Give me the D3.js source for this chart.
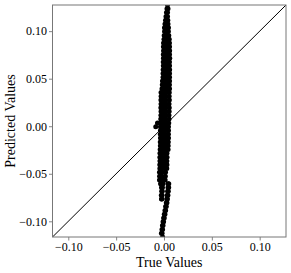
<!DOCTYPE html>
<html>
<head>
<meta charset="utf-8">
<script src="https://cdn.jsdelivr.net/npm/d3@7"></script>
<style>
  body { margin: 0; background: #fff; }
  text { font-family: "Liberation Serif", "DejaVu Serif", serif; }
</style>
</head>
<body>
<svg id="chart"></svg>
<script>
// axis limits (same for both axes) and tick values
const axisLimits = [-0.1165, 0.1275];
const tickValues = [-0.10, -0.05, 0.00, 0.05, 0.10];

// predicted values, one level per row, top to bottom
const predictedLevels = [
  0.1275, 0.1235, 0.1195, 0.1155, 0.1115, 0.1075, 0.1035, 0.0995, 0.0955, 0.0915,
  0.0875, 0.0835, 0.0795, 0.0755, 0.0715, 0.0675, 0.0635, 0.0595, 0.0555, 0.0515,
  0.0475, 0.0435, 0.0395, 0.0355, 0.0315, 0.0275, 0.0235, 0.0195, 0.0155, 0.0115,
  0.0075, 0.0035, -0.0005, -0.0045, -0.0085, -0.0125, -0.0165, -0.0205, -0.0245, -0.0285,
  -0.0325, -0.0365, -0.0405, -0.0445, -0.0485, -0.0525, -0.0565, -0.0605, -0.0645, -0.0685,
  -0.0725, -0.0765, -0.0805, -0.0845, -0.0885, -0.0925, -0.0965, -0.1005, -0.1045, -0.1085,
  -0.1125, -0.1165
];

// true values observed at each predicted level
const trueAtLevel = [
  [0.0037],
  [0.0031, 0.0042],
  [0.0026, 0.0037],
  [0.0021, 0.0037],
  [0.0016, 0.0031, 0.0040],
  [0.0010, 0.0026, 0.0042],
  [0.0005, 0.0026, 0.0047],
  [0.0006, 0.0027, 0.0046],
  [0.0002, 0.0026, 0.0050],
  [0.0000, 0.0026, 0.0055],
  [-0.0005, 0.0021, 0.0047, 0.0057],
  [-0.0006, 0.0020, 0.0046, 0.0058],
  [-0.0005, 0.0022, 0.0048, 0.0059],
  [-0.0007, 0.0019, 0.0045, 0.0058],
  [-0.0006, 0.0021, 0.0047, 0.0060],
  [-0.0008, 0.0020, 0.0046, 0.0057],
  [-0.0007, 0.0018, 0.0044, 0.0058],
  [-0.0009, 0.0019, 0.0045, 0.0059],
  [-0.0010, 0.0017, 0.0043, 0.0058],
  [-0.0010, 0.0016, 0.0042, 0.0058],
  [-0.0016, 0.0010, 0.0036, 0.0058],
  [-0.0018, 0.0009, 0.0035, 0.0057],
  [-0.0021, 0.0005, 0.0031, 0.0058],
  [-0.0031, -0.0005, 0.0021, 0.0055],
  [-0.0030, -0.0004, 0.0022, 0.0054],
  [-0.0032, -0.0006, 0.0020, 0.0056],
  [-0.0031, -0.0005, 0.0021, 0.0053],
  [-0.0033, -0.0007, 0.0019, 0.0055],
  [-0.0031, -0.0005, 0.0021, 0.0054],
  [-0.0032, -0.0006, 0.0020, 0.0052],
  [-0.0034, -0.0008, 0.0018, 0.0053],
  [-0.0068, -0.0035, -0.0009, 0.0017, 0.0050],
  [-0.0086, -0.0037, -0.0010, 0.0016, 0.0047],
  [-0.0037, -0.0010, 0.0016, 0.0047],
  [-0.0038, -0.0011, 0.0015, 0.0046],
  [-0.0037, -0.0010, 0.0016, 0.0047],
  [-0.0039, -0.0012, 0.0014, 0.0045],
  [-0.0038, -0.0011, 0.0015, 0.0044],
  [-0.0040, -0.0013, 0.0013, 0.0043],
  [-0.0042, -0.0016, 0.0010, 0.0031],
  [-0.0043, -0.0017, 0.0009, 0.0032],
  [-0.0042, -0.0016, 0.0010, 0.0030],
  [-0.0044, -0.0018, 0.0008, 0.0031],
  [-0.0043, -0.0017, 0.0009, 0.0029],
  [-0.0047, -0.0020, 0.0016],
  [-0.0046, -0.0021, 0.0014],
  [-0.0047, -0.0020, 0.0012],
  [-0.0036, -0.0010, 0.0042, 0.0050],
  [-0.0026, -0.0016, 0.0042, 0.0049],
  [-0.0024, -0.0018, 0.0038, 0.0045],
  [-0.0028, -0.0020, 0.0034, 0.0041],
  [-0.0026, -0.0022, 0.0029, 0.0036],
  [0.0024, 0.0031],
  [0.0017, 0.0024],
  [0.0010, 0.0017],
  [0.0003, 0.0010],
  [-0.0004, 0.0003],
  [-0.0010, -0.0004],
  [-0.0016, -0.0010],
  [-0.0021, -0.0015],
  [-0.0027, -0.0020],
  [-0.0014]
];

const points = [];
predictedLevels.forEach((p, i) => {
  trueAtLevel[i].forEach(t => points.push({ trueVal: t, predicted: p }));
});

const svgWidth = 291;
const svgHeight = 273;
const margin = { top: 5, right: 5, bottom: 36, left: 52.5 };
const width = svgWidth - margin.left - margin.right;
const height = svgHeight - margin.top - margin.bottom;

const svg = d3.select("#chart")
  .attr("width", svgWidth)
  .attr("height", svgHeight);

const g = svg.append("g")
  .attr("transform", `translate(${margin.left},${margin.top})`);

const x = d3.scaleLinear().domain(axisLimits).range([0, width]);
const y = d3.scaleLinear().domain(axisLimits).range([height, 0]);

const fmt = d => d3.format(".2f")(d).replace("-", "\u2212");

// clip the marks to the axes box
svg.append("defs").append("clipPath").attr("id", "clip")
  .append("rect").attr("width", width).attr("height", height);

const plot = g.append("g").attr("clip-path", "url(#clip)");

// identity line
plot.append("line")
  .attr("x1", x(axisLimits[0])).attr("y1", y(axisLimits[0]))
  .attr("x2", x(axisLimits[1])).attr("y2", y(axisLimits[1]))
  .attr("stroke", "#000")
  .attr("stroke-width", 1);

// scatter points
plot.selectAll("circle")
  .data(points)
  .join("circle")
  .attr("cx", d => x(d.trueVal))
  .attr("cy", d => y(d.predicted))
  .attr("r", 2.5)
  .attr("fill", "#000");

// axes
const xAxis = g.append("g")
  .attr("transform", `translate(0,${height})`)
  .call(d3.axisBottom(x).tickValues(tickValues).tickFormat(fmt).tickSizeOuter(0).tickSize(3.5).tickPadding(2));

const yAxis = g.append("g")
  .call(d3.axisLeft(y).tickValues(tickValues).tickFormat(fmt).tickSizeOuter(0).tickSize(3.5).tickPadding(2));

[xAxis, yAxis].forEach(a => {
  a.select(".domain").remove();
  a.selectAll("line").attr("stroke", "#666").attr("stroke-width", 0.8);
  a.selectAll("text").attr("font-size", 12).attr("fill", "#000")
    .style("font-family", "'Liberation Serif', serif");
});

// frame
g.append("rect")
  .attr("width", width).attr("height", height)
  .attr("fill", "none")
  .attr("stroke", "#777")
  .attr("stroke-width", 1);

// axis titles
svg.append("text")
  .attr("x", margin.left + width / 2)
  .attr("y", 267)
  .attr("text-anchor", "middle")
  .attr("font-size", 14)
  .text("True Values");

svg.append("text")
  .attr("transform", `translate(15,${margin.top + height / 2}) rotate(-90)`)
  .attr("text-anchor", "middle")
  .attr("font-size", 14)
  .text("Predicted Values");
</script>
</body>
</html>
